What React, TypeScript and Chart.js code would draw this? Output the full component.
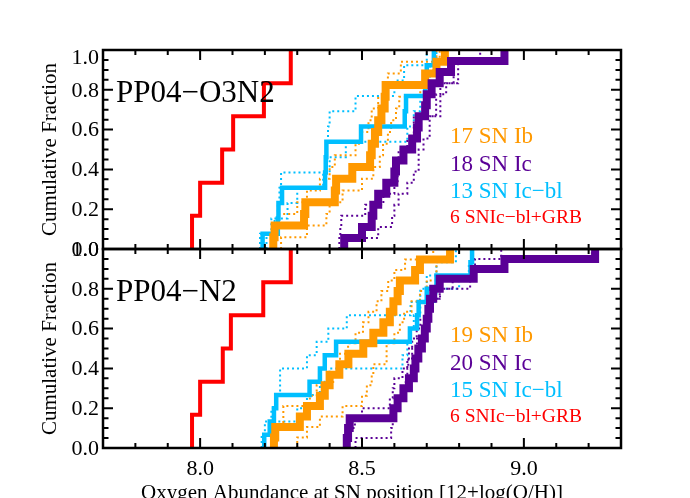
import React, { useEffect, useRef } from 'react';
import { Chart, registerables } from 'chart.js';

Chart.register(...registerables);

// ---- axes ----
const X_MIN = 7.7;
const X_MAX = 9.3;
const xMajorTicks = [8.0, 8.5, 9.0];
const xTickLabels = ['8.0', '8.5', '9.0'];
const yMajorTicks = [0, 0.2, 0.4, 0.6, 0.8, 1.0];
const yTickLabels = ['0.0', '0.2', '0.4', '0.6', '0.8', '1.0'];
const xTitle = 'Oxygen Abundance at SN position [12+log(O/H)]';
const yTitle = 'Cumulative Fraction';

// ---- panel labels & legends ----
const panelNames = ['PP04\u2212O3N2', 'PP04\u2212N2'];
const o3n2Legend = ['17 SN Ib', '18 SN Ic', '13 SN Ic\u2212bl', '6 SNIc\u2212bl+GRB'];
const n2Legend = ['19 SN Ib', '20 SN Ic', '15 SN Ic\u2212bl', '6 SNIc\u2212bl+GRB'];

// ---- PP04-O3N2 (top panel): sorted oxygen abundances ----
const o3n2Grb = [7.975, 8.0, 8.068, 8.102, 8.197, 8.28];
const o3n2Icbl = [8.193, 8.24, 8.242, 8.253, 8.386, 8.388, 8.39, 8.497, 8.632, 8.636, 8.695, 8.7, 8.722];
const o3n2IcblHigh = [8.185, 8.22, 8.24, 8.245, 8.25, 8.39, 8.392, 8.395, 8.4, 8.48, 8.6, 8.63, 8.7];
const o3n2IcblLow = [8.205, 8.23, 8.27, 8.3, 8.38, 8.4, 8.45, 8.64, 8.66, 8.68, 8.7, 8.71, 8.73];
const o3n2Ib = [8.226, 8.23, 8.321, 8.325, 8.416, 8.42, 8.47, 8.525, 8.53, 8.54, 8.55, 8.56, 8.57, 8.573, 8.695, 8.73, 8.756];
const o3n2IbHigh = [8.226, 8.236, 8.24, 8.3, 8.33, 8.37, 8.4, 8.416, 8.48, 8.5, 8.52, 8.53, 8.55, 8.565, 8.58, 8.62, 8.73];
const o3n2IbLow = [8.25, 8.33, 8.39, 8.4, 8.44, 8.5, 8.535, 8.555, 8.565, 8.58, 8.59, 8.605, 8.615, 8.68, 8.7, 8.72, 8.74];
const o3n2Ic = [8.445, 8.5, 8.53, 8.535, 8.55, 8.575, 8.6, 8.605, 8.628, 8.655, 8.67, 8.675, 8.695, 8.7, 8.715, 8.74, 8.775, 8.94];
const o3n2IcHigh = [8.43, 8.433, 8.436, 8.51, 8.566, 8.6, 8.61, 8.613, 8.613, 8.64, 8.66, 8.66, 8.729, 8.729, 8.742, 8.783, 8.783, 8.865];
const o3n2IcLow = [8.5, 8.55, 8.593, 8.6, 8.613, 8.64, 8.66, 8.675, 8.675, 8.69, 8.709, 8.709, 8.742, 8.742, 8.76, 8.797, 8.797, 8.947];

// ---- PP04-N2 (bottom panel) ----
const n2Grb = [7.975, 8.0, 8.07, 8.095, 8.195, 8.28];
const n2Icbl = [8.198, 8.215, 8.228, 8.235, 8.338, 8.37, 8.385, 8.42, 8.648, 8.67, 8.675, 8.7, 8.73, 8.835, 8.84];
const n2IcblHigh = [8.19, 8.2, 8.22, 8.235, 8.247, 8.247, 8.33, 8.36, 8.396, 8.453, 8.65, 8.68, 8.7, 8.73, 8.79];
const n2IcblLow = [8.2, 8.23, 8.3, 8.33, 8.37, 8.4, 8.625, 8.64, 8.65, 8.66, 8.68, 8.73, 8.8, 8.83, 8.84];
const n2Ib = [8.228, 8.232, 8.308, 8.33, 8.37, 8.385, 8.4, 8.43, 8.458, 8.504, 8.535, 8.566, 8.586, 8.597, 8.61, 8.617, 8.664, 8.679, 8.772];
const n2IbHigh = [8.226, 8.236, 8.257, 8.257, 8.339, 8.36, 8.411, 8.432, 8.432, 8.457, 8.48, 8.503, 8.52, 8.545, 8.56, 8.581, 8.6, 8.633, 8.72];
const n2IbLow = [8.3, 8.33, 8.37, 8.44, 8.5, 8.515, 8.53, 8.535, 8.576, 8.576, 8.6, 8.617, 8.63, 8.653, 8.679, 8.7, 8.73, 8.73, 8.77];
const n2Ic = [8.453, 8.457, 8.462, 8.597, 8.61, 8.628, 8.645, 8.66, 8.665, 8.674, 8.685, 8.694, 8.7, 8.705, 8.71, 8.72, 8.74, 8.845, 8.94, 9.22];
const n2IcHigh = [8.455, 8.465, 8.478, 8.5, 8.586, 8.595, 8.6, 8.625, 8.64, 8.645, 8.655, 8.669, 8.68, 8.7, 8.71, 8.74, 8.78, 8.843, 8.849, 8.93];
const n2IcLow = [8.48, 8.59, 8.595, 8.605, 8.617, 8.625, 8.635, 8.64, 8.643, 8.655, 8.67, 8.689, 8.7, 8.705, 8.71, 8.741, 8.834, 8.839, 8.947, 9.21];

const COLORS = {
  ib: 'rgb(255,153,0)',
  ic: 'rgb(90,0,150)',
  icbl: 'rgb(0,191,255)',
  grb: 'rgb(255,0,0)',
};
const legendColors = [COLORS.ib, COLORS.ic, COLORS.icbl, COLORS.grb];

const SERIF = '"Liberation Serif", "Times New Roman", Times, serif';

function cdf(values: number[]) {
  const n = values.length;
  const pts = [{ x: values[0], y: 0 }];
  values.forEach((v, i) => pts.push({ x: v, y: (i + 1) / n }));
  return pts;
}

function line(values: number[], axis: string, color: string, width: number, dotted: boolean, order: number) {
  return {
    type: 'line' as const,
    data: cdf(values),
    yAxisID: axis,
    borderColor: color,
    backgroundColor: color,
    borderWidth: width,
    borderDash: dotted ? [2, 3] : [],
    borderCapStyle: 'butt' as const,
    borderJoinStyle: 'miter' as const,
    stepped: 'before' as const,
    pointRadius: 0,
    fill: false,
    tension: 0,
    clip: false as const,
    order,
  };
}

function panelDatasets(axis: string, sets: any) {
  return [
    line(sets.icblHigh, axis, COLORS.icbl, 2, true, 20),
    line(sets.icblLow, axis, COLORS.icbl, 2, true, 20),
    line(sets.ibHigh, axis, COLORS.ib, 2, true, 19),
    line(sets.ibLow, axis, COLORS.ib, 2, true, 19),
    line(sets.icHigh, axis, COLORS.ic, 2, true, 18),
    line(sets.icLow, axis, COLORS.ic, 2, true, 18),
    line(sets.icbl, axis, COLORS.icbl, 4.5, false, 5),
    line(sets.ib, axis, COLORS.ib, 8, false, 4),
    line(sets.ic, axis, COLORS.ic, 8, false, 3),
    line(sets.grb, axis, COLORS.grb, 4, false, 2),
  ];
}

const decorPlugin = {
  id: 'decor',
  afterDatasetsDraw(chart: any) {
    const ctx = chart.ctx as CanvasRenderingContext2D;
    const xs = chart.scales.x;
    const panels = [chart.scales.yTop, chart.scales.yBot];
    const legends = [o3n2Legend, n2Legend];
    const left = xs.getPixelForValue(X_MIN);
    const right = xs.getPixelForValue(X_MAX);
    ctx.save();
    ctx.strokeStyle = '#000';
    ctx.fillStyle = '#000';

    panels.forEach((ys: any, pi: number) => {
      const top = ys.getPixelForValue(1);
      const bot = ys.getPixelForValue(0);
      // frame
      ctx.lineWidth = 2.5;
      ctx.strokeRect(left, top, right - left, bot - top);
      // x ticks (inward, top and bottom of each panel)
      ctx.lineWidth = 2;
      for (let k = 78; k <= 92; k++) {
        const v = k / 10;
        const px = xs.getPixelForValue(v);
        const major = k % 5 === 0;
        const len = major ? 10 : 5;
        ctx.beginPath();
        ctx.moveTo(px, bot);
        ctx.lineTo(px, bot - len);
        ctx.moveTo(px, top);
        ctx.lineTo(px, top + len);
        ctx.stroke();
      }
      // y ticks (inward, left and right)
      for (let k = 1; k < 20; k++) {
        const v = k / 20;
        const py = ys.getPixelForValue(v);
        const major = k % 4 === 0;
        const len = major ? 10 : 5.5;
        ctx.beginPath();
        ctx.moveTo(left, py);
        ctx.lineTo(left + len, py);
        ctx.moveTo(right, py);
        ctx.lineTo(right - len, py);
        ctx.stroke();
      }
      // y tick labels
      ctx.font = `22px ${SERIF}`;
      ctx.textAlign = 'right';
      ctx.textBaseline = 'middle';
      yMajorTicks.forEach((v, i) => {
        let py = ys.getPixelForValue(v);
        if (pi === 0 && v === 1) py += 7;
        ctx.fillText(yTickLabels[i], left - 4, py + 1);
      });
      // y title
      ctx.save();
      ctx.font = `21px ${SERIF}`;
      ctx.textAlign = 'center';
      ctx.textBaseline = 'alphabetic';
      ctx.translate(56, (top + bot) / 2);
      ctx.rotate(-Math.PI / 2);
      ctx.fillText(yTitle, 0, 0);
      ctx.restore();
      // panel label
      ctx.font = `31px ${SERIF}`;
      ctx.textAlign = 'left';
      ctx.textBaseline = 'alphabetic';
      ctx.fillStyle = '#000';
      ctx.fillText(panelNames[pi], 116, top + 52);
      // legend
      const rows = [top + 93, top + 121, top + 148, top + 173];
      legends[pi].forEach((txt, i) => {
        ctx.font = i === 3 ? `19.5px ${SERIF}` : `23px ${SERIF}`;
        ctx.fillStyle = legendColors[i];
        ctx.fillText(txt, 450, rows[i]);
      });
      ctx.fillStyle = '#000';
    });

    // x tick labels
    const bottomAxis = chart.scales.yBot.getPixelForValue(0);
    ctx.font = `22px ${SERIF}`;
    ctx.textAlign = 'center';
    ctx.textBaseline = 'alphabetic';
    xMajorTicks.forEach((v, i) => {
      ctx.fillText(xTickLabels[i], xs.getPixelForValue(v), bottomAxis + 27);
    });
    // x title
    ctx.font = `21px ${SERIF}`;
    ctx.fillText(xTitle, 352, bottomAxis + 51);
    ctx.restore();
  },
};

export default function App() {
  const canvasRef = useRef<HTMLCanvasElement | null>(null);

  useEffect(() => {
    const canvas = canvasRef.current;
    if (!canvas) return;
    const datasets = [
      ...panelDatasets('yTop', {
        grb: o3n2Grb, icbl: o3n2Icbl, icblHigh: o3n2IcblHigh, icblLow: o3n2IcblLow,
        ib: o3n2Ib, ibHigh: o3n2IbHigh, ibLow: o3n2IbLow,
        ic: o3n2Ic, icHigh: o3n2IcHigh, icLow: o3n2IcLow,
      }),
      ...panelDatasets('yBot', {
        grb: n2Grb, icbl: n2Icbl, icblHigh: n2IcblHigh, icblLow: n2IcblLow,
        ib: n2Ib, ibHigh: n2IbHigh, ibLow: n2IbLow,
        ic: n2Ic, icHigh: n2IcHigh, icLow: n2IcLow,
      }),
    ];
    const hiddenAxis = {
      ticks: { display: false },
      grid: { display: false, drawTicks: false },
      border: { display: false },
      title: { display: false },
    };
    const chart = new Chart(canvas, {
      type: 'line',
      data: { datasets } as any,
      options: {
        responsive: false,
        maintainAspectRatio: false,
        animation: false,
        devicePixelRatio: 1,
        events: [],
        layout: { padding: { left: 103, top: 50, right: 69, bottom: 50 } },
        plugins: { legend: { display: false }, tooltip: { enabled: false }, title: { display: false } },
        scales: {
          x: {
            type: 'linear', min: X_MIN, max: X_MAX, position: 'bottom', ...hiddenAxis,
            afterFit: (s: any) => { s.height = 0; },
          },
          yBot: {
            type: 'linear', min: 0, max: 1, position: 'left', stack: 'panels', stackWeight: 1, ...hiddenAxis,
            afterFit: (s: any) => { s.width = 0; },
          },
          yTop: {
            type: 'linear', min: 0, max: 1, position: 'left', stack: 'panels', stackWeight: 1, ...hiddenAxis,
            afterFit: (s: any) => { s.width = 0; },
          },
        } as any,
      },
      plugins: [decorPlugin],
    });
    return () => chart.destroy();
  }, []);

  return (
    <div style={{ position: 'absolute', left: 0, top: 0, width: 690, height: 498, background: '#fff' }}>
      <canvas ref={canvasRef} width={690} height={498} style={{ display: 'block', width: 690, height: 498 }} />
    </div>
  );
}
